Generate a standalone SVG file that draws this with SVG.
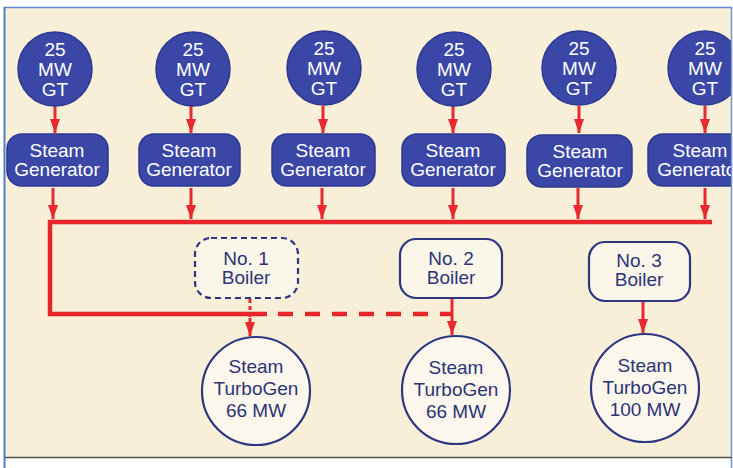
<svg xmlns="http://www.w3.org/2000/svg" width="733" height="468" viewBox="0 0 733 468">
<defs>
<style>
.gt{fill:#3a47a6;stroke:#2c3890;stroke-width:1.5}
.gt-t{fill:#ffffff;font-family:"Liberation Sans",Arial,sans-serif;font-size:19px;text-anchor:middle}
.sg{fill:#3a47a6;stroke:#2c3890;stroke-width:1.5}
.bl{fill:#fbf6ea;stroke:#2f3680;stroke-width:2.2}
.bl-dash{stroke-dasharray:6 4}
.dk-t{fill:#2d3475;font-family:"Liberation Sans",Arial,sans-serif;font-size:19px;text-anchor:middle}
.tg{fill:#fbf7ec;stroke:#2f3680;stroke-width:2.2}
.arr{stroke:#e8292e;stroke-width:3;fill:none}
.main{stroke:#e8262a;stroke-width:4.5;fill:none}
</style>
<marker id="ah" viewBox="0 0 14 10" refX="14" refY="5" markerWidth="14" markerHeight="11" markerUnits="userSpaceOnUse" orient="auto">
<path d="M0,0 L14,5 L0,10 z" fill="#e8292e"/>
</marker>
<clipPath id="frame"><rect x="5" y="8" width="726" height="449"/></clipPath>
</defs>
<rect x="0" y="0" width="733" height="468" fill="#ffffff"/>
<rect x="5" y="8" width="726" height="449" fill="#f8efd9"/>
<g clip-path="url(#frame)">
<g id="connectors">
<!-- GT to SG -->
<line class="arr" x1="55" y1="106" x2="55" y2="133" marker-end="url(#ah)"/>
<line class="arr" x1="191" y1="106" x2="191" y2="133" marker-end="url(#ah)"/>
<line class="arr" x1="323" y1="106" x2="323" y2="133" marker-end="url(#ah)"/>
<line class="arr" x1="453" y1="106" x2="453" y2="133" marker-end="url(#ah)"/>
<line class="arr" x1="579" y1="106" x2="579" y2="133" marker-end="url(#ah)"/>
<line class="arr" x1="705" y1="106" x2="705" y2="133" marker-end="url(#ah)"/>
<!-- SG to header -->
<line class="arr" x1="53" y1="188" x2="53" y2="219" marker-end="url(#ah)"/>
<line class="arr" x1="191" y1="188" x2="191" y2="219" marker-end="url(#ah)"/>
<line class="arr" x1="322" y1="188" x2="322" y2="219" marker-end="url(#ah)"/>
<line class="arr" x1="453" y1="188" x2="453" y2="219" marker-end="url(#ah)"/>
<line class="arr" x1="578" y1="188" x2="578" y2="219" marker-end="url(#ah)"/>
<line class="arr" x1="705" y1="188" x2="705" y2="219" marker-end="url(#ah)"/>
<!-- header -->
<path class="main" d="M712,222 L50,222 L50,314 L267,314"/>
<line class="main" x1="278" y1="314" x2="452" y2="314" stroke-dasharray="15 12"/>
<!-- boiler to turbogen -->
<line x1="250" y1="299" x2="250" y2="318" stroke="#e8292e" stroke-width="3" stroke-dasharray="4 3"/>
<line class="arr" x1="250" y1="318" x2="250" y2="336" marker-end="url(#ah)"/>
<line class="arr" x1="452" y1="299" x2="452" y2="335" marker-end="url(#ah)"/>
<line class="arr" x1="643" y1="302" x2="643" y2="333" marker-end="url(#ah)"/>
</g>
<g id="gt1"><circle class="gt" cx="55" cy="69" r="37"/><text class="gt-t" x="55" y="56">25</text><text class="gt-t" x="55" y="76">MW</text><text class="gt-t" x="55" y="96">GT</text></g>
<g id="gt2"><circle class="gt" cx="193" cy="69" r="37"/><text class="gt-t" x="193" y="56">25</text><text class="gt-t" x="193" y="76">MW</text><text class="gt-t" x="193" y="96">GT</text></g>
<g id="gt3"><circle class="gt" cx="324" cy="68" r="37"/><text class="gt-t" x="324" y="55">25</text><text class="gt-t" x="324" y="75">MW</text><text class="gt-t" x="324" y="95">GT</text></g>
<g id="gt4"><circle class="gt" cx="454" cy="69" r="37"/><text class="gt-t" x="454" y="56">25</text><text class="gt-t" x="454" y="76">MW</text><text class="gt-t" x="454" y="96">GT</text></g>
<g id="gt5"><circle class="gt" cx="579" cy="68" r="37"/><text class="gt-t" x="579" y="55">25</text><text class="gt-t" x="579" y="75">MW</text><text class="gt-t" x="579" y="95">GT</text></g>
<g id="gt6"><circle class="gt" cx="705" cy="68" r="37"/><text class="gt-t" x="705" y="55">25</text><text class="gt-t" x="705" y="75">MW</text><text class="gt-t" x="705" y="95">GT</text></g>
<g id="sg1"><rect class="sg" x="7" y="134" width="101" height="52" rx="15"/><text class="gt-t" x="57" y="157">Steam</text><text class="gt-t" x="57" y="176">Generator</text></g>
<g id="sg2"><rect class="sg" x="139" y="134" width="101" height="52" rx="15"/><text class="gt-t" x="189" y="157">Steam</text><text class="gt-t" x="189" y="176">Generator</text></g>
<g id="sg3"><rect class="sg" x="272" y="134" width="103" height="52" rx="15"/><text class="gt-t" x="323" y="157">Steam</text><text class="gt-t" x="323" y="176">Generator</text></g>
<g id="sg4"><rect class="sg" x="402" y="134" width="103" height="52" rx="15"/><text class="gt-t" x="453" y="157">Steam</text><text class="gt-t" x="453" y="176">Generator</text></g>
<g id="sg5"><rect class="sg" x="527" y="135" width="105" height="52" rx="15"/><text class="gt-t" x="580" y="158">Steam</text><text class="gt-t" x="580" y="177">Generator</text></g>
<g id="sg6"><rect class="sg" x="648" y="134" width="105" height="52" rx="15"/><text class="gt-t" x="700" y="157">Steam</text><text class="gt-t" x="700" y="176">Generator</text></g>
<g id="boiler1"><rect class="bl bl-dash" x="195" y="238" width="103" height="60" rx="16"/><text class="dk-t" x="246" y="265">No. 1</text><text class="dk-t" x="246" y="284">Boiler</text></g>
<g id="boiler2"><rect class="bl" x="400" y="239" width="102" height="59" rx="16"/><text class="dk-t" x="451" y="265">No. 2</text><text class="dk-t" x="451" y="284">Boiler</text></g>
<g id="boiler3"><rect class="bl" x="589" y="242" width="101" height="59" rx="16"/><text class="dk-t" x="639" y="267">No. 3</text><text class="dk-t" x="639" y="286">Boiler</text></g>
<g id="tg1"><circle class="tg" cx="256" cy="391" r="54"/><text class="dk-t" x="256" y="373">Steam</text><text class="dk-t" x="256" y="395">TurboGen</text><text class="dk-t" x="256" y="417">66 MW</text></g>
<g id="tg2"><circle class="tg" cx="456" cy="390" r="54"/><text class="dk-t" x="456" y="374">Steam</text><text class="dk-t" x="456" y="396">TurboGen</text><text class="dk-t" x="456" y="418">66 MW</text></g>
<g id="tg3"><circle class="tg" cx="645" cy="388" r="54"/><text class="dk-t" x="645" y="372">Steam</text><text class="dk-t" x="645" y="394">TurboGen</text><text class="dk-t" x="645" y="416">100 MW</text></g>
</g>
<line x1="5" y1="7.5" x2="732" y2="7.5" stroke="#5b8ccf" stroke-width="1.5"/>
<line x1="4.5" y1="7" x2="4.5" y2="468" stroke="#4f7fc6" stroke-width="2"/>
<line x1="731.5" y1="7" x2="731.5" y2="468" stroke="#6a98d2" stroke-width="1.5"/>
<line x1="5" y1="457.5" x2="732" y2="457.5" stroke="#555555" stroke-width="1.5"/>
</svg>
